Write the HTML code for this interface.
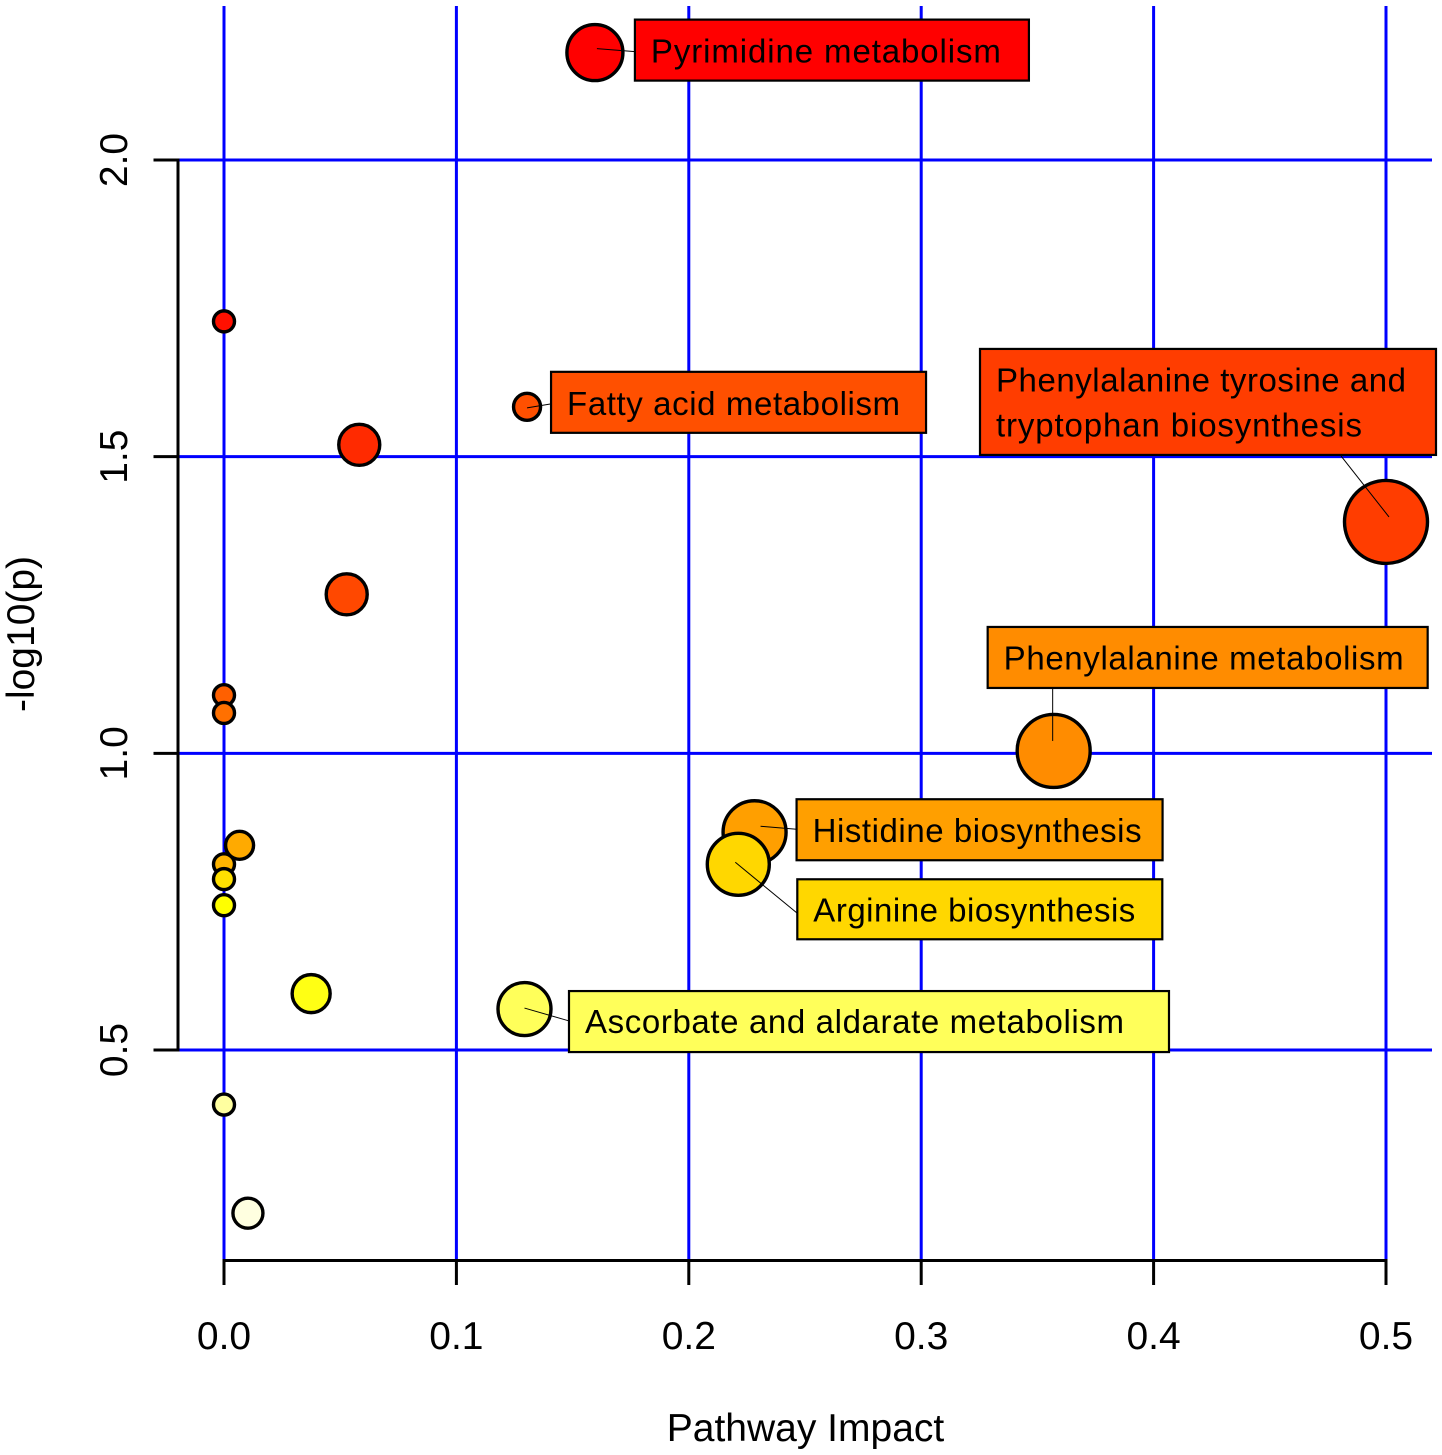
<!DOCTYPE html>
<html lang="en">
<head>
<meta charset="utf-8">
<title>Pathway Impact bubble chart</title>
<style>
html,body{margin:0;padding:0;background:#fff;width:1442px;height:1455px;overflow:hidden}
svg{display:block}
text{font-family:"Liberation Sans",sans-serif;fill:#000}
</style>
</head>
<body>
<svg id="chart" xmlns="http://www.w3.org/2000/svg" width="1442" height="1455" viewBox="0 0 1442 1455"></svg>
<script>
// ---- chart data ----
const xTicks = [0.0, 0.1, 0.2, 0.3, 0.4, 0.5];
const yTicks = [0.5, 1.0, 1.5, 2.0];
const xTickLabels = ["0.0", "0.1", "0.2", "0.3", "0.4", "0.5"];
const yTickLabels = ["0.5", "1.0", "1.5", "2.0"];
const pathways = ["Pyrimidine metabolism", "p2", "Fatty acid metabolism", "p4", "p5", "Phenylalanine tyrosine and tryptophan biosynthesis", "p7", "p8", "Phenylalanine metabolism", "Histidine biosynthesis", "p11", "p12", "Arginine biosynthesis", "p14", "p15", "p16", "Ascorbate and aldarate metabolism", "p18", "p19"];
const impact = [0.1596, 0.0, 0.1304, 0.0582, 0.0528, 0.5, 0.0, 0.0, 0.357, 0.2283, 0.0, 0.0, 0.2213, 0.0067, 0.0, 0.0375, 0.1293, 0.0, 0.0103];
const logP = [2.181, 1.728, 1.584, 1.52, 1.268, 1.39, 1.098, 1.068, 1.004, 0.867, 0.813, 0.788, 0.813, 0.845, 0.744, 0.595, 0.569, 0.408, 0.225];
const bubbleSize = [56, 21, 27, 41, 41, 83, 21, 21, 73, 63, 21, 21, 62, 28, 21, 38, 53, 21, 30];

// ---- styling (parallel to the data, not data) ----
const bubbleFills = ["#FF0000", "#FF1000", "#FF5000", "#FF2A00", "#FF4800", "#FF3D00", "#FF6000", "#FF7000", "#FF8C00", "#FF9F00", "#FFB400", "#FFE000", "#FFD700", "#FFAA00", "#FFFF00", "#FFFF14", "#FFFF5A", "#FFFFA0", "#FFFFE0"];

// ---- axis functions ----
const xScale = v => 224 + v * 2324;
const yScale = v => 160 + (2.0 - v) * 593.33;
const rScale = v => v / 2;

const NS = "http://www.w3.org/2000/svg";
const svg = document.getElementById("chart");
function mk(tag, attrs, parent) {
  const el = document.createElementNS(NS, tag);
  for (const k in attrs) el.setAttribute(k, attrs[k]);
  (parent || svg).appendChild(el);
  return el;
}

// grid
const gridLayer = mk("g", {});


xTicks.forEach(t => {
  const line = mk("line", {x1: xScale(t), x2: xScale(t), y1: 6, y2: 1260, stroke: "#0000FF", "stroke-width": 3}, gridLayer);
  
  
});
yTicks.forEach(t => {
  const line = mk("line", {x1: 178, x2: 1432, y1: yScale(t), y2: yScale(t), stroke: "#0000FF", "stroke-width": 3}, gridLayer);
  
  
});

// y axis
const yAxis = mk("g", {stroke: "#000", "stroke-width": 3, "stroke-linecap": "square"});


mk("line", {x1: 178, x2: 178, y1: yScale(yTicks[yTicks.length - 1]), y2: yScale(yTicks[0])}, yAxis);
yTicks.forEach((t, i) => {
  const tick = mk("line", {x1: 155, x2: 176, y1: yScale(t), y2: yScale(t)}, yAxis);
  
  
  const label = mk("text", {x: 127, y: yScale(t), "text-anchor": "middle", "font-size": 39, stroke: "none", transform: "rotate(-90 127 " + yScale(t) + ")"}, yAxis);
  label.textContent = yTickLabels[i];
  
  
});

// x axis
const xAxis = mk("g", {stroke: "#000", "stroke-width": 3, "stroke-linecap": "square"});


mk("line", {x1: xScale(xTicks[0]), x2: xScale(xTicks[xTicks.length - 1]), y1: 1260.5, y2: 1260.5}, xAxis);
xTicks.forEach((t, i) => {
  const tick = mk("line", {x1: xScale(t), x2: xScale(t), y1: 1260.5, y2: 1283.5}, xAxis);
  
  
  const label = mk("text", {x: xScale(t), y: 1349, "text-anchor": "middle", "font-size": 39, stroke: "none"}, xAxis);
  label.textContent = xTickLabels[i];
  
  
});

// axis titles
const xTitle = mk("text", {x: 805.5, y: 1441, "text-anchor": "middle", "font-size": 39});
xTitle.textContent = "Pathway Impact";


const yTitle = mk("text", {x: 34, y: 634, "text-anchor": "middle", "font-size": 39, transform: "rotate(-90 34 634)"});
yTitle.textContent = "-log10(p)";



// bubbles
const bubbleLayer = mk("g", {});


impact.forEach((v, i) => {
  const c = mk("circle", {cx: xScale(v), cy: yScale(logP[i]), r: rScale(bubbleSize[i]), fill: bubbleFills[i], stroke: "#000", "stroke-width": 3.4}, bubbleLayer);
  
  
});

// callout placement, relative to the bubble each one annotates
const callouts = {
  "Pyrimidine metabolism": {box: [40, -33, 394, 61], tip: [2, -4], foot: [40, -1], text: [[56, 10, 350]]},
  "Fatty acid metabolism": {box: [24, -35, 375, 61], tip: [0, 1], foot: [24, -3], text: [[40, 8, 333]]},
  "Phenylalanine tyrosine and tryptophan biosynthesis": {box: [-406, -173, 456, 106], tip: [3, -5], foot: [-45, -66], text: [[-390, -130.5, 410, "Phenylalanine tyrosine and"], [-390, -85.5, 366, "tryptophan biosynthesis"]]},
  "Phenylalanine metabolism": {box: [-66, -124, 440, 61], tip: [-1, -10], foot: [-1, -63], text: [[-50, -81.5, 400]]},
  "Histidine biosynthesis": {box: [42, -33, 366, 61], tip: [6, -6], foot: [42, -3], text: [[58, 10, 329]]},
  "Arginine biosynthesis": {box: [59, 15, 365, 60], tip: [-3, -2], foot: [59, 49], text: [[75, 57, 322]]},
  "Ascorbate and aldarate metabolism": {box: [44.5, -18, 600, 61], tip: [0, -1], foot: [45, 12], text: [[60.5, 24, 539]]}
};
const calloutLayer = mk("g", {});


const calloutOrder = ["Pyrimidine metabolism", "Fatty acid metabolism", "Phenylalanine tyrosine and tryptophan biosynthesis", "Phenylalanine metabolism", "Histidine biosynthesis", "Arginine biosynthesis", "Ascorbate and aldarate metabolism"];
calloutOrder.forEach(name => {
  const i = pathways.indexOf(name);
  const cx = xScale(impact[i]), cy = yScale(logP[i]);
  const c = callouts[name];
  const group = mk("g", {}, calloutLayer);
  
  
  const leader = mk("line", {x1: cx + c.tip[0], y1: cy + c.tip[1], x2: cx + c.foot[0], y2: cy + c.foot[1], stroke: "#000", "stroke-width": 1}, group);
  
  
  const box = mk("rect", {x: cx + c.box[0], y: cy + c.box[1], width: c.box[2], height: c.box[3], fill: bubbleFills[i], stroke: "#000", "stroke-width": 2.2}, group);
  
  
  c.text.forEach(t => {
    const label = mk("text", {x: cx + t[0], y: cy + t[1], "font-size": 33, textLength: t[2], lengthAdjust: "spacing"}, group);
    label.textContent = t[3] || name;
    
    
  });
});
</script>
</body>
</html>
